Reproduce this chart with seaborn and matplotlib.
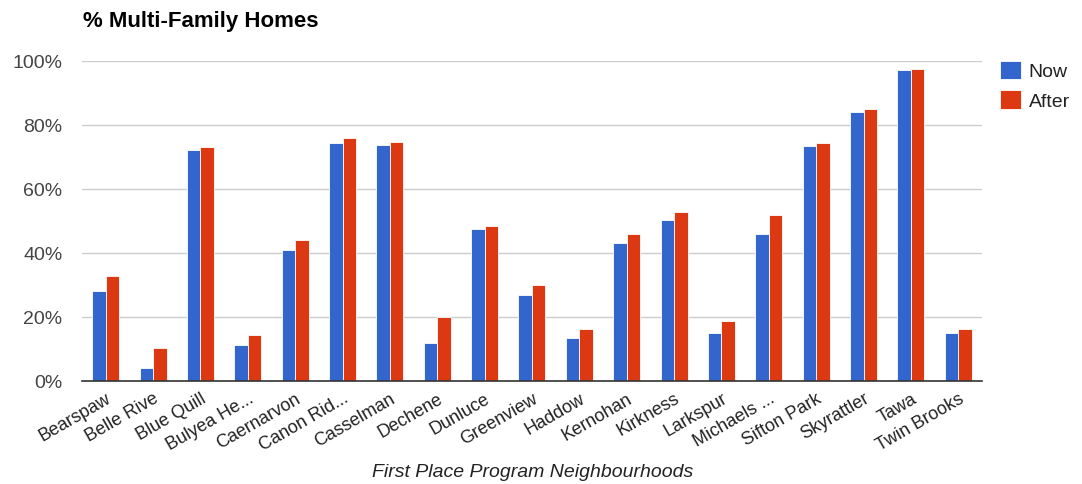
import matplotlib
matplotlib.use('Agg')
import matplotlib.pyplot as plt
import seaborn as sns
import pandas as pd

# neighbourhood names as shown (truncated like the original chart)
hoods = ['Bearspaw', 'Belle Rive', 'Blue Quill', 'Bulyea He...', 'Caernarvon',
         'Canon Rid...', 'Casselman', 'Dechene', 'Dunluce', 'Greenview',
         'Haddow', 'Kernohan', 'Kirkness', 'Larkspur', 'Michaels ...',
         'Sifton Park', 'Skyrattler', 'Tawa', 'Twin Brooks']
now = [28.2, 4.1, 72.1, 11.1, 40.9, 74.4, 73.8, 12.0, 47.5, 26.9,
       13.3, 43.1, 50.2, 15.0, 45.8, 73.4, 84.1, 97.2, 15.0]
after = [32.7, 10.2, 73.0, 14.3, 44.1, 76.0, 74.7, 20.0, 48.3, 30.0,
         16.3, 45.8, 52.8, 18.9, 52.0, 74.4, 84.9, 97.6, 16.3]
series = ['Now', 'After']
yticks = [0, 20, 40, 60, 80, 100]

df = pd.DataFrame({
    'hood': hoods * 2,
    'pct': now + after,
    'series': ['Now'] * len(hoods) + ['After'] * len(hoods),
})

sns.set_style('white')
plt.rcParams['font.family'] = ['Liberation Sans', 'DejaVu Sans']

fig = plt.figure(figsize=(10.82, 4.85), dpi=100)
ax = fig.add_axes([82 / 1082, 1 - 382 / 485, 900 / 1082, 320 / 485])

sns.barplot(data=df, x='hood', y='pct', hue='series', hue_order=series,
            palette=['#3366CC', '#DC3912'], width=0.57, saturation=1,
            edgecolor='white', linewidth=0.6, ax=ax)

ax.set_ylim(0, 100)
ax.set_xlim(-0.5, len(hoods) - 0.5)
ax.set_yticks(yticks)
ax.set_yticklabels([f'{v}%' for v in yticks])
ax.yaxis.grid(True, color='#cccccc', linewidth=1)
ax.set_axisbelow(True)
for s in ['top', 'right', 'left']:
    ax.spines[s].set_visible(False)
ax.spines['bottom'].set_color('#333333')
ax.spines['bottom'].set_linewidth(1.2)

ax.tick_params(axis='y', length=0, pad=14, labelsize=14, labelcolor='#444444')
ax.tick_params(axis='x', length=0, pad=6, labelsize=13, labelcolor='#222222')
plt.setp(ax.get_xticklabels(), rotation=30, ha='right', rotation_mode='anchor')
ax.set_xlabel('')
ax.set_ylabel('')

ax.legend(loc='upper left', bbox_to_anchor=(982 / 1082, 1 - 44 / 485),
          bbox_transform=fig.transFigure, frameon=False, fontsize=14,
          handlelength=1.1, handleheight=1.1, handletextpad=0.4,
          labelspacing=0.5, labelcolor='#222222')

fig.text(83 / 1082, 1 - 27 / 485, '% Multi-Family Homes', fontsize=16,
         fontweight='bold', color='#000000', va='baseline')
fig.text(533 / 1082, 1 - 477 / 485, 'First Place Program Neighbourhoods',
         fontsize=14, style='italic', color='#222222', ha='center', va='baseline')

fig.savefig('out.png', dpi=100)
